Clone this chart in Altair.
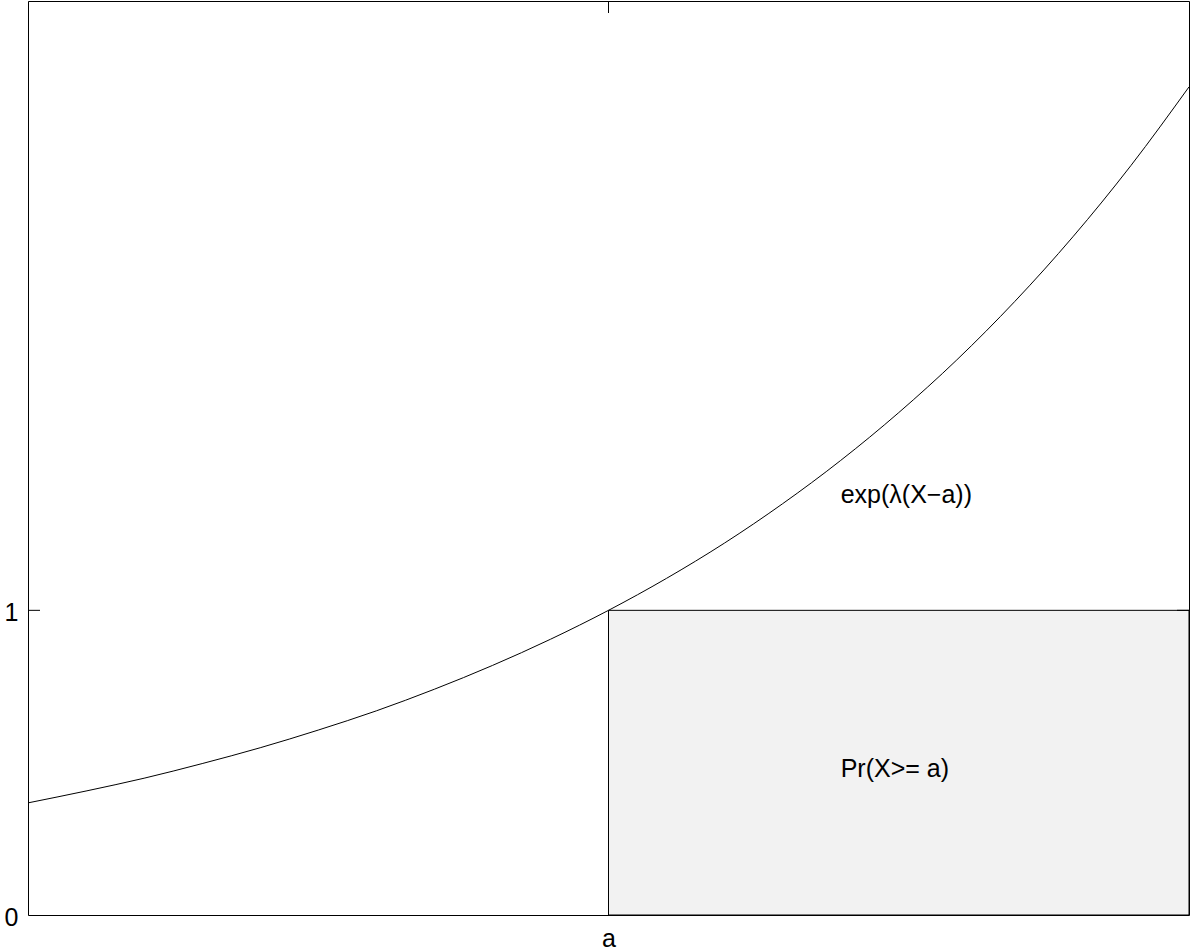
import altair as alt
import pandas as pd

# Curve exp(lambda*(X - a)) with a = 0, lambda = 1, sampled across the window
curve_x = [-1.0, -0.9, -0.8, -0.7, -0.6, -0.5, -0.4, -0.3, -0.2, -0.1, 0.0,
           0.1, 0.2, 0.3, 0.4, 0.5, 0.6, 0.7, 0.8, 0.9, 1.0]
curve_y = [0.368, 0.407, 0.449, 0.497, 0.549, 0.607, 0.670, 0.741, 0.819, 0.905, 1.000,
           1.105, 1.221, 1.350, 1.492, 1.649, 1.822, 2.014, 2.226, 2.460, 2.718]

# Shaded indicator region: X >= a, height 1
box_x = [0.0]
box_x2 = [1.0]
box_y = [0.0]
box_y2 = [1.0]

# Annotations
note_text = ["exp(λ(X−a))", "Pr(X>= a)"]
note_x = [0.40, 0.40]
note_y = [1.38, 0.48]

# Axis ticks
x_ticks = [0.0]
x_tick_labels = ["a"]
y_ticks = [0.0, 1.0]

W, H = 1161, 914
FONT = "Liberation Sans"
FS = 25

curve_df = pd.DataFrame({"x": curve_x, "y": curve_y})
box_df = pd.DataFrame({"x": box_x, "x2": box_x2, "y": box_y, "y2": box_y2})
note_df = pd.DataFrame({"x": note_x, "y": note_y, "label": note_text})
xt_df = pd.DataFrame({"x": x_ticks})
yt_df = pd.DataFrame({"y": [v for v in y_ticks if v > 0]})

label_expr = " : ".join(
    [f"datum.value == {v} ? '{t}'" for v, t in zip(x_ticks, x_tick_labels)] + ["''"]
)

xscale = alt.Scale(domain=[-1, 1], nice=False, zero=False)
yscale = alt.Scale(domain=[0, 3], nice=False, zero=False)

xaxis = alt.Axis(values=x_ticks, labelExpr=label_expr, ticks=False, grid=False,
                 domainColor="black", domainWidth=1, labelFont=FONT, labelFontSize=FS,
                 labelColor="black", labelPadding=11, title=None)
yaxis = alt.Axis(values=y_ticks, format="d", ticks=False, grid=False,
                 domainColor="black", domainWidth=1, labelFont=FONT, labelFontSize=FS,
                 labelColor="black", labelPadding=10, labelOffset=2, title=None)
# Plain frame lines on the top and right edges
xaxis_top = alt.Axis(orient="top", values=x_ticks, labels=False, ticks=False, grid=False,
                     domainColor="black", domainWidth=1, title=None)
yaxis_right = alt.Axis(orient="right", values=y_ticks, labels=False, ticks=False, grid=False,
                       domainColor="black", domainWidth=1, title=None)

box = alt.Chart(box_df).mark_rect(fill="#f2f2f2", stroke="black", strokeWidth=1).encode(
    x=alt.X("x:Q", scale=xscale, axis=xaxis),
    x2="x2:Q",
    y=alt.Y("y:Q", scale=yscale, axis=yaxis),
    y2="y2:Q",
)

curve = alt.Chart(curve_df).mark_line(color="black", strokeWidth=1,
                                      interpolate="monotone").encode(
    x=alt.X("x:Q", scale=xscale, axis=xaxis_top),
    y=alt.Y("y:Q", scale=yscale, axis=yaxis_right),
)

notes = alt.Chart(note_df).mark_text(align="left", baseline="middle", font=FONT,
                                     fontSize=FS, color="black").encode(
    x=alt.X("x:Q", scale=xscale, axis=None),
    y=alt.Y("y:Q", scale=yscale, axis=None),
    text="label:N",
)

# Inward ticks on all four sides of the box
TL = 12
tick_bottom = alt.Chart(xt_df).mark_rule(color="black", strokeWidth=1).encode(
    x=alt.X("x:Q", scale=xscale, axis=None), y=alt.value(H - TL), y2=alt.value(H))
tick_top = alt.Chart(xt_df).mark_rule(color="black", strokeWidth=1).encode(
    x=alt.X("x:Q", scale=xscale, axis=None), y=alt.value(0), y2=alt.value(TL))
tick_left = alt.Chart(yt_df).mark_rule(color="black", strokeWidth=1).encode(
    y=alt.Y("y:Q", scale=yscale, axis=None), x=alt.value(0), x2=alt.value(TL))
tick_right = alt.Chart(yt_df).mark_rule(color="black", strokeWidth=1).encode(
    y=alt.Y("y:Q", scale=yscale, axis=None), x=alt.value(W - TL), x2=alt.value(W))

chart = alt.layer(box, curve, notes, tick_bottom, tick_top, tick_left, tick_right).resolve_axis(
    x="independent", y="independent"
).properties(
    width=W, height=H,
    autosize=alt.AutoSizeParams(type="none"),
    padding={"left": 28, "top": 1, "right": 2, "bottom": 35},
).configure_view(stroke=None).configure(background="white")

chart.save("out.html", embed_options={"renderer": "svg", "actions": False})
